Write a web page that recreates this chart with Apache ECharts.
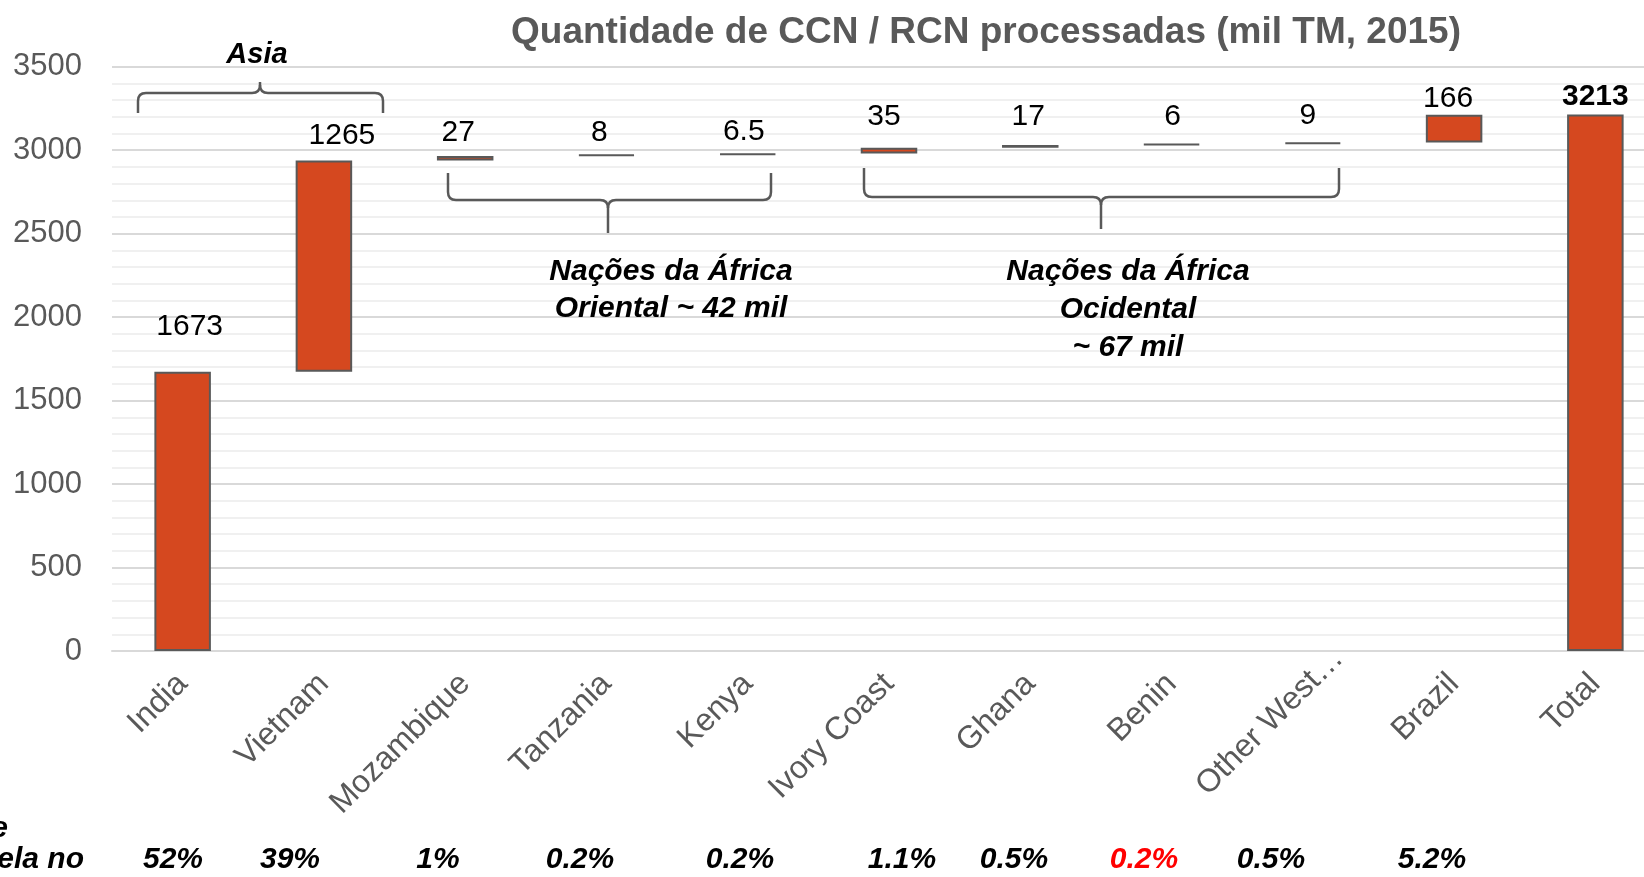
<!DOCTYPE html>
<html>
<head>
<meta charset="utf-8">
<script src="https://cdn.jsdelivr.net/npm/echarts@6/dist/echarts.min.js"></script>
<style>
  html, body { margin: 0; padding: 0; background: #fff; }
  #chart { width: 1644px; height: 877px; }
</style>
</head>
<body>
<div id="chart"></div>
<script>
"use strict";

// data (mil TM)
var categories = ['India', 'Vietnam', 'Mozambique', 'Tanzania', 'Kenya', 'Ivory Coast', 'Ghana', 'Benin', 'Other West…', 'Brazil', 'Total'];
var values = [1673, 1265, 27, 8, 6.5, 35, 17, 6, 9, 166, 3213];
var shares = ['52%', '39%', '1%', '0.2%', '0.2%', '1.1%', '0.5%', '0.2%', '0.5%', '5.2%'];
var yTicks = [0, 500, 1000, 1500, 2000, 2500, 3000, 3500];

// layout tweaks for the value labels (Excel had them hand placed)
var labelLift = [30, 10, 8, 7, 6, 16, 13, 12, 11, 1, 3];
var labelShift = [7, 18, -7, -7, -4, -5, -2, 1, -5, -6, 0];
var shareX = [173, 290, 438, 580, 740, 902, 1014, 1144, 1271, 1432];

var FONT = 'Arial, "Liberation Sans", sans-serif';
var GRAY = '#595959';
var BAR = '#D5481F';

// waterfall: invisible base + visible step, total starts from 0
var base = [];
var run = 0;
for (var i = 0; i < values.length; i++) {
    if (i === values.length - 1) {
        base.push(0);
    } else {
        base.push(run);
        run += values[i];
    }
}

var stepData = values.map(function (v, i) {
    return {
        value: v,
        label: {
            distance: labelLift[i],
            offset: [labelShift[i], 0],
            fontWeight: i === values.length - 1 ? 'bold' : 'normal'
        }
    };
});

// the truncated label sits further out along its slope in the original
var categoryData = categories.map(function (c) {
    if (c.indexOf('…') >= 0) {
        return { value: c, textStyle: { padding: [0, -36, 0, 0] } };
    }
    return c;
});

// curly brace made of lines and quadratic curves
function brace(x1, x2, xm, yEnd, yBar, ySpike) {
    var r = 8;
    var s = yEnd > yBar ? 1 : -1;
    var t = ySpike > yBar ? 1 : -1;
    var st = { stroke: GRAY, lineWidth: 2.5, fill: null };
    var parts = [
        { type: 'line', shape: { x1: x1, y1: yEnd, x2: x1, y2: yBar + r * s } },
        { type: 'bezierCurve', shape: { x1: x1, y1: yBar + r * s, cpx1: x1, cpy1: yBar, x2: x1 + r, y2: yBar } },
        { type: 'line', shape: { x1: x1 + r, y1: yBar, x2: xm - r, y2: yBar } },
        { type: 'bezierCurve', shape: { x1: xm - r, y1: yBar, cpx1: xm, cpy1: yBar, x2: xm, y2: yBar + r * t } },
        { type: 'bezierCurve', shape: { x1: xm + r, y1: yBar, cpx1: xm, cpy1: yBar, x2: xm, y2: yBar + r * t } },
        { type: 'line', shape: { x1: xm, y1: yBar + r * t, x2: xm, y2: ySpike } },
        { type: 'line', shape: { x1: xm + r, y1: yBar, x2: x2 - r, y2: yBar } },
        { type: 'bezierCurve', shape: { x1: x2 - r, y1: yBar, cpx1: x2, cpy1: yBar, x2: x2, y2: yBar + r * s } },
        { type: 'line', shape: { x1: x2, y1: yBar + r * s, x2: x2, y2: yEnd } }
    ];
    parts.forEach(function (p) { p.style = st; p.silent = true; p.z = 100; });
    return parts;
}

function note(x, y, text, opts) {
    opts = opts || {};
    return {
        type: 'text',
        x: x,
        y: y,
        z: 100,
        silent: true,
        style: {
            text: text,
            font: (opts.style || 'italic') + ' bold ' + (opts.size || 30) + 'px ' + FONT,
            fill: opts.color || '#000',
            align: opts.align || 'center',
            verticalAlign: 'middle',
            lineHeight: opts.lineHeight || 37
        }
    };
}

var graphics = [];
graphics.push(note(986, 33, 'Quantidade de CCN / RCN processadas (mil TM, 2015)', { style: 'normal', size: 37, color: GRAY }));
graphics = graphics.concat(brace(138, 383, 260, 113, 93, 82));
graphics = graphics.concat(brace(448, 771, 608, 173, 200, 233));
graphics = graphics.concat(brace(864, 1339, 1101, 168, 197, 229));
graphics.push(note(257, 55, 'Asia', { size: 29 }));
graphics.push(note(671, 290, 'Nações da África\nOriental ~ 42 mil'));
graphics.push(note(1128, 310, 'Nações da África\nOcidental\n~ 67 mil', { lineHeight: 38 }));
graphics.push(note(8, 829, 'Participação de', { align: 'right' }));
graphics.push(note(84, 860, 'Parcela no', { align: 'right' }));
shares.forEach(function (s, i) {
    graphics.push(note(shareX[i], 860, s, { color: i === 7 ? '#FF0000' : '#000' }));
});

var chart = echarts.init(document.getElementById('chart'));

chart.setOption({
    animation: false,
    backgroundColor: '#fff',
    textStyle: { fontFamily: FONT },
    // plot runs past the right edge of the cropped slide
    grid: { left: 112, right: -22, top: 66.7, bottom: 226, containLabel: false, outerBoundsMode: 'none' },
    xAxis: {
        type: 'category',
        data: categoryData,
        axisLine: { show: true, lineStyle: { color: '#d9d9d9', width: 2 } },
        axisTick: { show: false },
        axisLabel: {
            interval: 0,
            rotate: 45,
            margin: 28,
            fontSize: 32,
            color: GRAY,
            fontFamily: FONT
        }
    },
    yAxis: {
        type: 'value',
        min: yTicks[0],
        max: yTicks[yTicks.length - 1],
        interval: yTicks[1] - yTicks[0],
        axisLine: { show: false },
        axisTick: { show: false },
        axisLabel: {
            fontSize: 31,
            color: GRAY,
            margin: 30,
            fontFamily: FONT,
            formatter: function (v) { return String(v); }
        },
        splitLine: { lineStyle: { color: '#d9d9d9', width: 2 } },
        minorTick: { show: false, splitNumber: 5 },
        minorSplitLine: { show: true, lineStyle: { color: '#f0f0f0', width: 2 } }
    },
    series: [
        {
            name: 'base',
            type: 'bar',
            stack: 'w',
            barWidth: '40%',
            silent: true,
            itemStyle: { color: 'transparent', borderWidth: 0 },
            data: base
        },
        {
            name: 'step',
            type: 'bar',
            stack: 'w',
            barWidth: '40%',
            itemStyle: { color: BAR, borderColor: GRAY, borderWidth: 2 },
            label: {
                show: true,
                position: 'top',
                fontSize: 30,
                color: '#000',
                fontFamily: FONT,
                formatter: function (p) { return String(values[p.dataIndex]); }
            },
            data: stepData
        }
    ],
    graphic: graphics
});
</script>
</body>
</html>
